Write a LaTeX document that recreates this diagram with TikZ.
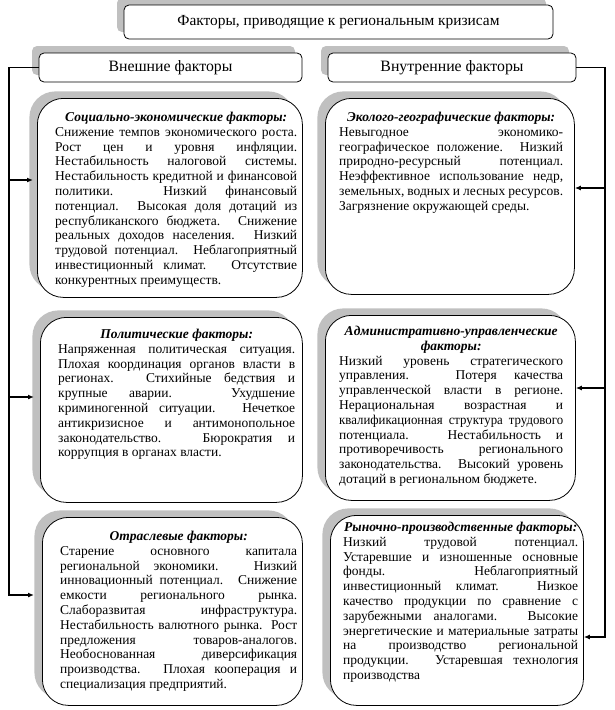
\documentclass[tikz,border=0pt]{standalone}
\usepackage{fontspec}
\setmainfont{Liberation Serif}
\usetikzlibrary{shadows,arrows.meta,calc}
\definecolor{shadowgray}{RGB}{192,192,192}
\newcommand\hd[1]{{\centering\bfseries\itshape #1\par}}
\newcommand\tight[1]{{\addfontfeature{FakeStretch=0.95}#1}}
\begin{document}
\begin{tikzpicture}[x=1pt,y=-1pt,
  hdr/.style={draw, line width=0.8pt, rounded corners=5pt, fill=white,
    general shadow={shadow xshift=-7pt,shadow yshift=7pt,fill=shadowgray},
    inner sep=0pt, font=\fontsize{15.8}{18}\selectfont},
  fbox/.style={draw, line width=0.8pt, rounded corners=26pt, fill=white,
    general shadow={shadow xshift=-8pt,shadow yshift=7pt,fill=shadowgray},
    inner sep=0pt, anchor=north west},
  body/.style={anchor=north west, inner sep=0pt, align=justify,
    font=\fontsize{13.5}{14.8}\selectfont},
  conn/.style={line width=1.5pt},
  arr/.style={conn, -{Latex[length=6pt,width=5pt]}}
]
\useasboundingbox (0,0) rectangle (614,710);

\node[hdr, minimum width=429pt, minimum height=34pt, font=\fontsize{15.4}{18}\selectfont] (title) at (338.5,22) {Факторы, приводящие к региональным кризисам};
\node[hdr, minimum width=263pt, minimum height=29pt] (ext) at (170.5,67.5) {Внешние факторы};
\node[hdr, minimum width=248pt, minimum height=29pt] (int) at (452,67.5) {Внутренние факторы};

\node[fbox, minimum width=265pt, minimum height=199pt] (soc) at (37,98) {};
\node[fbox, minimum width=249pt, minimum height=196pt] (eco) at (325,98) {};
\node[fbox, minimum width=262pt, minimum height=185pt] (pol) at (40,317) {};
\node[fbox, minimum width=250pt, minimum height=185pt] (adm) at (325,315) {};
\node[fbox, minimum width=260pt, minimum height=188pt] (otr) at (42,517) {};
\node[fbox, minimum width=253pt, minimum height=190pt] (mkt) at (330,515) {};

\node[body, text width=242pt] (socT) at (55,112) {\hd{Социально-экономические факторы:}
Снижение темпов экономического роста.\linebreak
Рост цен и уровня инфляции.\linebreak
Нестабильность налоговой системы.\linebreak
Нестабильность кредитной и финансовой\linebreak
политики. Низкий финансовый\linebreak
потенциал. Высокая доля дотаций из\linebreak
республиканского бюджета. Снижение\linebreak
реальных доходов населения. Низкий\linebreak
трудовой потенциал. Неблагоприятный\linebreak
инвестиционный климат. Отсутствие\linebreak
конкурентных преимуществ.};

\node[body, text width=224pt] (ecoT) at (339,112) {\hd{Эколого-географические факторы:}
Невыгодное экономико-\linebreak
географическое положение. Низкий\linebreak
природно-ресурсный потенциал.\linebreak
Неэффективное использование недр,\linebreak
земельных, водных и лесных ресурсов.\linebreak
Загрязнение окружающей среды.};

\node[body, text width=237pt] (polT) at (58,329) {\hd{Политические факторы:}
Напряженная политическая ситуация.\linebreak
Плохая координация органов власти в\linebreak
регионах. Стихийные бедствия и\linebreak
крупные аварии. Ухудшение\linebreak
криминогенной ситуации. Нечеткое\linebreak
антикризисное и антимонопольное\linebreak
законодательство. Бюрократия и\linebreak
коррупция в органах власти.};

\node[body, text width=224pt] (admT) at (339,326) {\hd{Административно-управленческие\\факторы:}
Низкий уровень стратегического\linebreak
управления. Потеря качества\linebreak
управленческой власти в регионе.\linebreak
Нерациональная возрастная и\linebreak
\tight{квалификационная структура трудового}\linebreak
потенциала. Нестабильность и\linebreak
противоречивость регионального\linebreak
законодательства. Высокий уровень\linebreak
дотаций в региональном бюджете.};

\node[body, text width=237pt] (otrT) at (60,531) {\hd{Отраслевые факторы:}
Старение основного капитала\linebreak
региональной экономики. Низкий\linebreak
инновационный потенциал. Снижение\linebreak
емкости регионального рынка.\linebreak
Слаборазвитая инфраструктура.\linebreak
Нестабильность валютного рынка. Рост\linebreak
предложения товаров-аналогов.\linebreak
Необоснованная диверсификация\linebreak
производства. Плохая кооперация и\linebreak
специализация предприятий.};

\node[body, text width=235pt] (mktT) at (343,522) {\hd{Рыночно-производственные факторы:}
Низкий трудовой потенциал.\linebreak
Устаревшие и изношенные основные\linebreak
фонды. Неблагоприятный\linebreak
инвестиционный климат. Низкое\linebreak
качество продукции по сравнение с\linebreak
зарубежными аналогами. Высокие\linebreak
энергетические и материальные затраты\linebreak
на производство региональной\linebreak
продукции. Устаревшая технология\linebreak
производства};

% left connectors
\coordinate (lt) at (9,67.5);
\coordinate (lb) at (9,595);
\coordinate (l1) at (9,180);
\coordinate (l2) at (9,397);
\draw[arr] (ext.west) -- (lt) -- (lb) -- ($(lb -| otr.west)+(-8,0)$);
\draw[arr] (l1) -- ($(l1 -| soc.west)+(-4,0)$);
\draw[arr] (l2) -- ($(l2 -| pol.west)+(-6,0)$);

% right connectors
\coordinate (rt) at (605,67.5);
\coordinate (rb) at (605,637);
\coordinate (r1) at (605,188);
\coordinate (r2) at (605,388);
\draw[arr] (int.east) -- (rt) -- (rb) -- (rb -| mkt.east);
\draw[arr] (r1) -- (r1 -| eco.east);
\draw[arr] (r2) -- (r2 -| adm.east);
\end{tikzpicture}
\end{document}
